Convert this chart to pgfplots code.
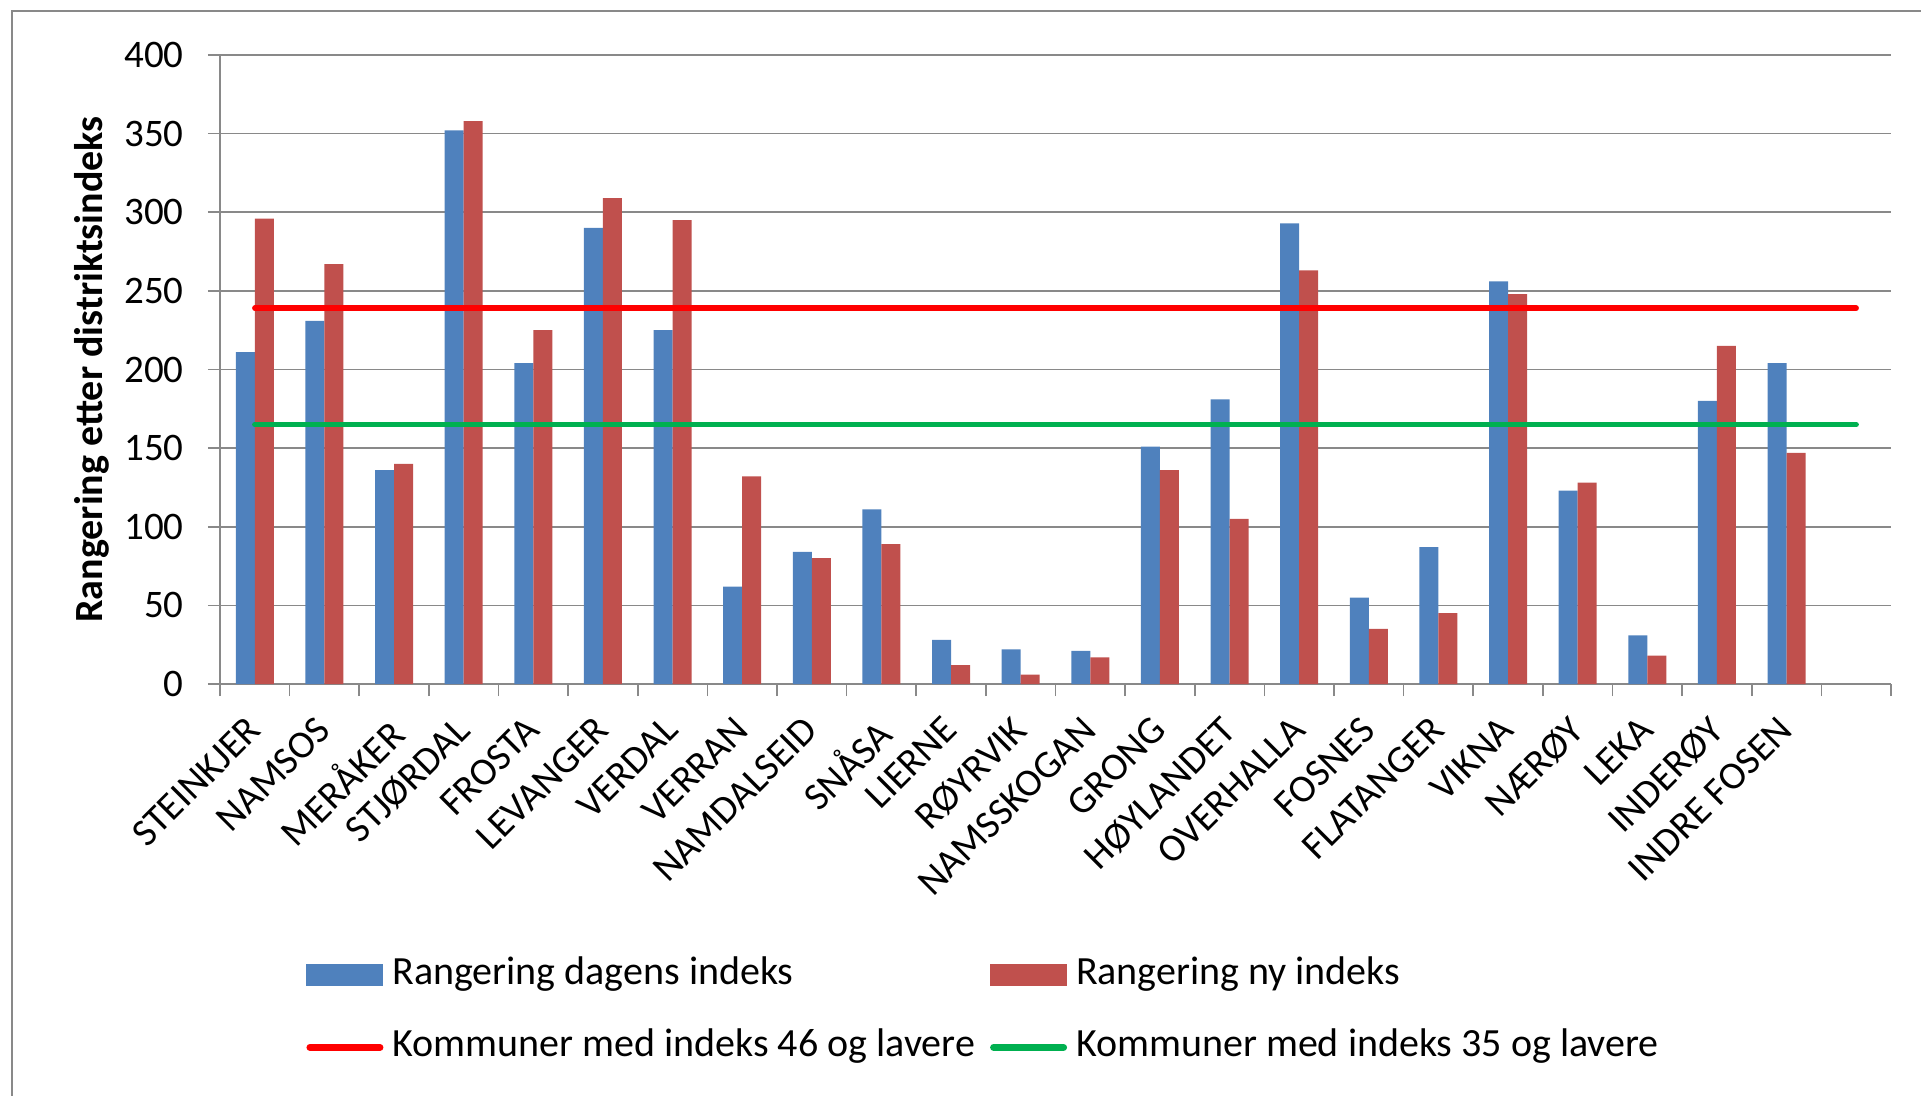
\documentclass[border=0pt]{standalone}
\usepackage{pgfplots}
\usepackage{pgfplotstable}
\pgfplotsset{compat=1.18}
\usepackage{fontspec}
\setmainfont{Carlito}
\definecolor{cblue}{HTML}{4F81BD}
\definecolor{cred}{HTML}{C0504D}
\definecolor{lred}{HTML}{FF0000}
\definecolor{lgreen}{HTML}{00B050}
\definecolor{gridc}{HTML}{898989}

\pgfplotstableread{
x blue red
0 211 296
1 231 267
2 136 140
3 352 358
4 204 225
5 290 309
6 225 295
7 62 132
8 84 80
9 111 89
10 28 12
11 22 6
12 21 17
13 151 136
14 181 105
15 293 263
16 55 35
17 87 45
18 256 248
19 123 128
20 31 18
21 180 215
22 204 147
}\data

\begin{document}
\begin{tikzpicture}
\useasboundingbox (-110pt,-206pt) rectangle (850.5pt,342pt);
\draw[color=gridc, line width=1.3pt] (-104pt,-215pt) -- (-104pt,336.5pt) -- (860pt,336.5pt);
\begin{axis}[
  at={(0,0)}, anchor=south west,
  scale only axis, width=835.5pt, height=314.5pt,
  xmin=-0.5, xmax=23.5, ymin=0, ymax=400,
  axis x line*=bottom, axis y line*=left,
  axis line style={gridc, line width=0.8pt},
  ytick={0,50,...,400},
  ymajorgrids, grid style={gridc, line width=0.8pt},
  tick align=outside, major tick length=6pt,
  tick style={gridc, line width=0.8pt},
  xtick={-0.5,0.5,...,23.5},
  xticklabels={},
  extra x ticks={0,1,...,22},
  extra x tick labels={STEINKJER,NAMSOS,MERÅKER,STJØRDAL,FROSTA,LEVANGER,VERDAL,VERRAN,NAMDALSEID,SNÅSA,LIERNE,RØYRVIK,NAMSSKOGAN,GRONG,HØYLANDET,OVERHALLA,FOSNES,FLATANGER,VIKNA,NÆRØY,LEKA,INDERØY,INDRE FOSEN},
  extra x tick style={major tick length=0pt},
  xticklabel style={xshift=-5pt, yshift=-15pt, rotate=45, anchor=north east, inner sep=0pt, font=\fontsize{19.5}{23}\selectfont},
  yticklabel style={anchor=east, inner sep=0pt, xshift=-12pt, font=\fontsize{19.5}{23}\selectfont},
  /pgf/number format/assume math mode=true,
  ylabel={Rangering etter distriktsindeks},
  ylabel style={font=\fontsize{20}{24}\selectfont\bfseries, at={(axis description cs:-0.0766,0.5)}, anchor=center},
  legend columns=2,
  legend cell align=left,
  legend style={at={(0.0515,-0.4356)}, anchor=north west, draw=none, fill=none, inner sep=0pt,
    font=\fontsize{20}{24}\selectfont,
    nodes={inner sep=0pt, text height=13pt, text depth=4pt},
    column sep=4.5pt, /tikz/every even column/.append style={column sep=7.5pt}, row sep=19pt},
]
\addplot[ybar, bar width=0.273, bar shift=-0.1365, fill=cblue, draw=none,
  legend image code/.code={\fill[cblue] (0pt,-5.5pt) rectangle (38.5pt,5.5pt);}]
  table[x=x, y=blue]{\data};
\addlegendentry{Rangering dagens indeks}
\addplot[ybar, bar width=0.273, bar shift=0.1365, fill=cred, draw=none,
  legend image code/.code={\fill[cred] (0pt,-5.5pt) rectangle (38.5pt,5.5pt);}]
  table[x=x, y=red]{\data};
\addlegendentry{Rangering ny indeks}
\addplot[lred, line width=2.7pt, line cap=round, mark=none,
  legend image code/.code={\draw[lred, line width=3.5pt, line cap=round] (1.75pt,0pt) -- (36.75pt,0pt);}]
  coordinates {(0,239) (23,239)};
\addlegendentry{Kommuner med indeks 46 og lavere}
\addplot[lgreen, line width=2.7pt, line cap=round, mark=none,
  legend image code/.code={\draw[lgreen, line width=3.5pt, line cap=round] (1.75pt,0pt) -- (36.75pt,0pt);}]
  coordinates {(0,165) (23,165)};
\addlegendentry{Kommuner med indeks 35 og lavere}
\end{axis}
\end{tikzpicture}
\end{document}
